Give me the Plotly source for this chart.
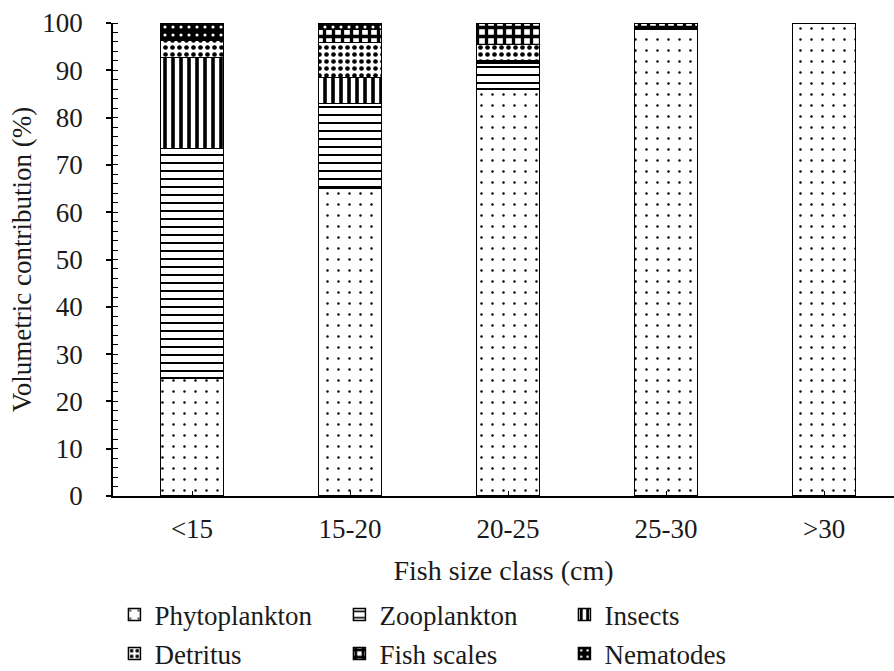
import plotly.graph_objects as go

categories = ["<15", "15-20", "20-25", "25-30", ">30"]
phytoplankton = [25.0, 65.0, 86.0, 98.6, 100.0]
zooplankton = [48.5, 18.0, 5.5, 0.0, 0.0]
insects = [19.2, 5.5, 0.5, 0.0, 0.0]
detritus = [3.6, 7.4, 3.5, 0.0, 0.0]
fish_scales = [0.0, 2.7, 4.5, 1.4, 0.0]
nematodes = [3.6, 1.4, 0.0, 0.0, 0.0]
y_ticks = [0, 10, 20, 30, 40, 50, 60, 70, 80, 90, 100]

FONT = "Liberation Serif"
FS = 27
TXT = "#1a1a1a"

series = [
    ("Phytoplankton", phytoplankton, dict(shape=".", size=11, solidity=0.04, fgcolor="black", bgcolor="white", fillmode="replace"), "legend"),
    ("Zooplankton", zooplankton, dict(shape="-", size=8, solidity=0.25, fgcolor="black", bgcolor="white", fillmode="replace"), "legend"),
    ("Insects", insects, dict(shape="|", size=8, solidity=0.45, fgcolor="black", bgcolor="white", fillmode="replace"), "legend"),
    ("Detritus", detritus, dict(shape=".", size=7, solidity=0.35, fgcolor="black", bgcolor="white", fillmode="replace"), "legend2"),
    ("Fish scales", fish_scales, dict(shape="+", size=9, solidity=0.6, fgcolor="black", bgcolor="white", fillmode="replace"), "legend2"),
    ("Nematodes", nematodes, dict(shape=".", size=8, solidity=0.12, fgcolor="white", bgcolor="black", fillmode="replace"), "legend2"),
]

fig = go.Figure()
for name, vals, pat, lg in series:
    fig.add_trace(go.Bar(
        x=categories, y=vals, name=name, legend=lg,
        marker=dict(color="white", pattern=pat, line=dict(color="black", width=1.5)),
        hoverinfo="skip",
    ))

fig.update_layout(
    width=894, height=671,
    barmode="stack", bargap=0.6,
    paper_bgcolor="white", plot_bgcolor="white",
    margin=dict(l=113, r=0, t=23, b=175),
    font=dict(family=FONT, size=FS, color=TXT),
    xaxis=dict(
        range=[-0.5, 4.443], showgrid=False, showline=True, linecolor="black", linewidth=1.5,
        ticks="inside", ticklen=5, tickcolor="black", tickwidth=1.2,
        ticklabelstandoff=8, automargin=False,
        title=dict(text="Fish size class (cm)", standoff=17, font=dict(family=FONT, size=28, color=TXT)),
        tickfont=dict(family=FONT, size=FS, color=TXT),
    ),
    yaxis=dict(
        range=[0, 100], tickvals=y_ticks, showgrid=False, showline=True, linecolor="black", linewidth=1.5,
        ticks="outside", ticklen=5, tickcolor="black", tickwidth=1.5,
        minor=dict(ticks="inside", dtick=2, ticklen=5, tickcolor="black", tickwidth=1.2),
        ticklabelstandoff=18, zeroline=False, automargin=False,
        title=dict(text="Volumetric contribution (%)", standoff=3, font=dict(family=FONT, size=FS, color=TXT)),
        tickfont=dict(family=FONT, size=FS, color=TXT),
    ),
    legend=dict(orientation="h", xref="container", yref="container", x=0.128, xanchor="left",
                y=1 - 615 / 671, yanchor="middle",
                entrywidth=180, traceorder="normal", font=dict(family=FONT, size=FS, color=TXT),
                itemwidth=30, bgcolor="rgba(0,0,0,0)"),
    legend2=dict(orientation="h", xref="container", yref="container", x=0.128, xanchor="left",
                 y=1 - 654 / 671, yanchor="middle",
                 entrywidth=180, traceorder="normal", font=dict(family=FONT, size=FS, color=TXT),
                 itemwidth=30, bgcolor="rgba(0,0,0,0)"),
    showlegend=True,
)

fig.write_html("out.html", config={"displayModeBar": False},
               post_script="document.body.style.margin='0px';document.body.style.overflow='hidden';")
